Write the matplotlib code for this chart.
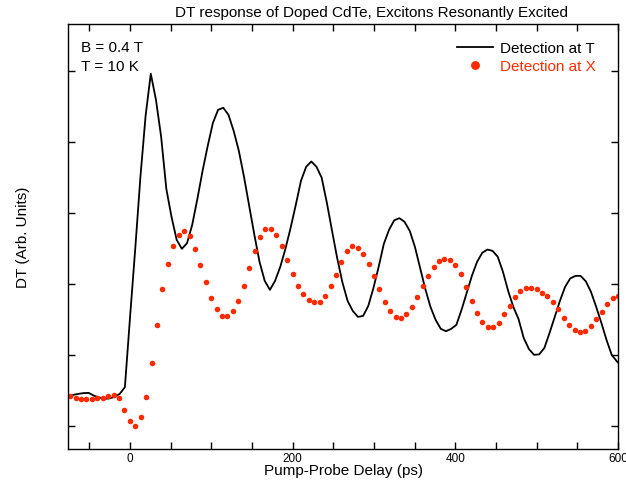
import matplotlib
matplotlib.use("Agg")
import matplotlib.pyplot as plt
import numpy as np

plt.rcParams['font.family'] = ['Liberation Sans', 'DejaVu Sans']

# delay grids (ps) - red points every ~6.67 ps, black trace every ~6.37 ps
delay_x = np.linspace(-73.3, 600.0, 102)
delay_t = np.linspace(-76.1, 605.0, 108)

# DT signal, detection at X (red points), arbitrary units
dt_x = [0.415, 0.387, 0.373, 0.373, 0.381, 0.391, 0.395, 0.419, 0.438, 0.391,
        0.222, 0.062, -0.008, 0.119, 0.401, 0.890, 1.427, 1.931, 2.284, 2.534,
        2.694, 2.750, 2.684, 2.496, 2.266, 2.025, 1.804, 1.641, 1.549, 1.549,
        1.620, 1.761, 1.977, 2.227, 2.472, 2.661, 2.774, 2.782, 2.698, 2.538,
        2.340, 2.143, 1.973, 1.856, 1.780, 1.743, 1.751, 1.836, 1.969, 2.133,
        2.316, 2.463, 2.534, 2.510, 2.425, 2.280, 2.114, 1.927, 1.751, 1.616,
        1.540, 1.525, 1.571, 1.677, 1.822, 1.973, 2.110, 2.242, 2.326, 2.355,
        2.336, 2.266, 2.138, 1.955, 1.766, 1.592, 1.465, 1.390, 1.390, 1.451,
        1.573, 1.695, 1.818, 1.903, 1.945, 1.941, 1.927, 1.879, 1.828, 1.743,
        1.648, 1.521, 1.422, 1.352, 1.319, 1.338, 1.404, 1.507, 1.610, 1.715,
        1.799, 1.836]

# DT signal, detection at T (black line), arbitrary units
dt_t = [0.419, 0.434, 0.448, 0.459, 0.462, 0.424, 0.398, 0.377, 0.384, 0.405,
        0.448, 0.542, 1.535, 2.496, 3.513, 4.374, 4.968, 4.600, 4.078, 3.343,
        2.948, 2.623, 2.496, 2.576, 2.835, 3.202, 3.597, 3.951, 4.275, 4.459,
        4.487, 4.388, 4.162, 3.880, 3.513, 3.103, 2.694, 2.312, 2.044, 1.917,
        2.044, 2.242, 2.496, 2.792, 3.117, 3.456, 3.654, 3.729, 3.654, 3.499,
        3.146, 2.750, 2.362, 2.023, 1.761, 1.620, 1.535, 1.549, 1.691, 1.945,
        2.242, 2.566, 2.764, 2.898, 2.929, 2.877, 2.750, 2.524, 2.227, 1.931,
        1.677, 1.493, 1.366, 1.333, 1.366, 1.422, 1.634, 1.874, 2.114, 2.312,
        2.439, 2.486, 2.467, 2.383, 2.171, 1.903, 1.677, 1.507, 1.239, 1.083,
        0.999, 1.006, 1.097, 1.309, 1.535, 1.761, 1.959, 2.079, 2.114, 2.114,
        2.037, 1.888, 1.677, 1.451, 1.210, 0.999, 0.907, 0.829]

red = '#ff2a00'

fig = plt.figure(figsize=(6.26, 4.85), dpi=100)
ax = fig.add_axes([68 / 626, 35 / 485, 550 / 626, 425 / 485])

ax.plot(delay_t, dt_t, '-', color='black', linewidth=1.3, label='Detection at T')
ax.plot(delay_x, dt_x, 'o', color=red, markersize=4.0, markeredgewidth=0,
        label='Detection at X')

ax.set_xlim(-76, 600)
ax.set_ylim(-0.33, 5.67)
ax.set_xticks([0, 200, 400, 600])
ax.set_xticks(np.arange(-50, 600, 50), minor=True)
ax.set_yticks([0, 1, 2, 3, 4, 5])
ax.set_yticklabels([])
ax.tick_params(which='both', direction='in', top=True, right=True,
               length=5, width=1, labelsize=8.5, pad=2.5)
for s in ax.spines.values():
    s.set_linewidth(1.0)

ax.set_xlabel('Pump-Probe Delay (ps)', fontsize=11, labelpad=-1)
ax.set_ylabel('DT (Arb. Units)', fontsize=11)
ax.yaxis.set_label_coords(-38 / 550, 0.5)

fig.text(372 / 626, 1 - 13 / 485, 'DT response of Doped CdTe, Excitons Resonantly Excited',
         ha='center', va='center', fontsize=11)

fig.text(81 / 626, 1 - 48 / 485, 'B = 0.4 T', ha='left', va='center', fontsize=11)
fig.text(81 / 626, 1 - 67 / 485, 'T = 10 K', ha='left', va='center', fontsize=11)

ax.legend(loc='upper right', bbox_to_anchor=(596 / 626, 1 - 42 / 485),
          bbox_transform=fig.transFigure, frameon=False, fontsize=11,
          borderpad=0, borderaxespad=0, handlelength=2.3, handletextpad=0.5,
          labelspacing=0.28, markerscale=1.6, labelcolor='linecolor')

fig.savefig('out.png', dpi=100)
